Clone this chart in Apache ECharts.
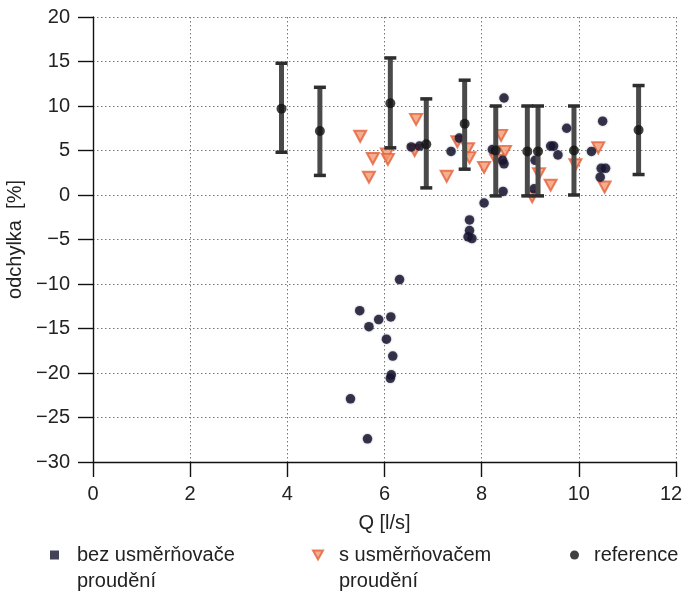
<!DOCTYPE html>
<html>
<head>
<meta charset="utf-8">
<script src="https://cdn.jsdelivr.net/npm/echarts@6/dist/echarts.min.js"></script>
<style>
  html, body { margin: 0; padding: 0; background: #fff; }
  #chartdiv { width: 683px; height: 592px; }
</style>
</head>
<body>
<div id="chartdiv"></div>
<script>
// measured without flow conditioner
var bezQ   = [6.55, 6.72, 7.37, 7.54, 8.22, 8.46, 8.43, 8.46, 8.44, 8.05, 7.75, 7.75, 7.72, 7.80,
              9.10, 9.08, 9.42, 9.48, 9.57, 9.75, 10.26, 10.49, 10.46, 10.55, 10.44,
              6.31, 5.49, 5.88, 6.13, 5.68, 6.04, 6.17, 6.14, 6.12, 5.30, 5.65];
var bezDev = [5.4, 5.5, 4.9, 6.4, 5.1, 10.9, 3.9, 3.5, 0.4, -0.9, -2.8, -4.0, -4.7, -4.9,
              3.9, 0.7, 5.5, 5.5, 4.5, 7.5, 4.9, 8.3, 3.0, 3.0, 2.0,
              -9.5, -13.0, -14.0, -13.7, -14.8, -16.2, -18.1, -20.2, -20.6, -22.9, -27.4];

// measured with flow conditioner
var sQ   = [5.50, 5.76, 5.68, 6.05, 6.07, 6.65, 6.62, 7.28, 7.50, 7.72, 7.75, 8.05, 8.40, 8.48,
            8.30, 9.18, 9.04, 9.42, 9.93, 10.40, 10.53];
var sDev = [6.6, 4.1, 2.0, 4.6, 4.0, 8.5, 5.0, 2.1, 6.0, 5.2, 4.2, 3.1, 6.7, 4.9,
            3.9, 2.4, -0.2, 1.1, 3.4, 5.3, 0.9];

// reference meter with error bars
var refQ    = [3.88, 4.67, 6.12, 6.86, 7.65, 8.29, 8.94, 9.16, 9.90, 11.23];
var refDev  = [9.7, 7.2, 10.3, 5.7, 8.0, 5.0, 4.9, 4.9, 5.0, 7.3];
var refLow  = [4.8, 2.2, 5.3, 0.8, 2.9, -0.1, -0.1, -0.1, 0.0, 2.3];
var refHigh = [14.8, 12.1, 15.4, 10.8, 12.9, 10.0, 10.0, 10.0, 10.0, 12.3];

var names = ['bez usměrňovače\nproudění', 's usměrňovačem\nproudění', 'reference'];

var FONT = 'Liberation Sans';
var TXT = '#222';

function zip(a, b) {
    return a.map(function(v, i) { return [v, b[i]]; });
}

var errorBars = refQ.map(function(q, i) { return [q, refLow[i], refHigh[i]]; });

var gridLine = { show: true, lineStyle: { color: '#777', width: 1, type: [1.5, 2.5] } };
var axisLine = { show: true, onZero: false, lineStyle: { color: '#111', width: 1.4 } };
var axisTick = { show: true, length: 15, lineStyle: { color: '#111', width: 1.4 } };

// two-line legend entries: blank first line keeps the marker level with the first text line
var legendText = { fontFamily: FONT, fontSize: 20, color: TXT, lineHeight: 26 };

var options = {
    animation: false,
    textStyle: { fontFamily: FONT },
    grid: { left: 93, right: 7, top: 17, bottom: 130, containLabel: false, outerBoundsMode: 'none' },
    legend: [
        {
            data: [{ name: names[0], icon: 'rect' }],
            left: 45, top: 511, selectedMode: false,
            itemWidth: 9, itemHeight: 9,
            formatter: function(n) { return '\n' + n; },
            textStyle: Object.assign({ padding: [0, 0, 0, 13] }, legendText)
        },
        {
            data: [names[1]],
            left: 307, top: 511, selectedMode: false,
            itemWidth: 10, itemHeight: 10,
            formatter: function(n) { return '\n' + n; },
            textStyle: Object.assign({ padding: [0, 0, 0, 11] }, legendText)
        },
        {
            data: [names[2]],
            left: 565, top: 537, selectedMode: false,
            itemWidth: 9, itemHeight: 9,
            textStyle: Object.assign({ padding: [0, 0, 0, 10] }, legendText)
        }
    ],
    xAxis: {
        type: 'value',
        min: 0, max: 12, interval: 2,
        name: 'Q [l/s]',
        nameLocation: 'middle',
        nameGap: 51,
        nameTextStyle: { fontFamily: FONT, fontSize: 20, color: TXT },
        axisLine: axisLine,
        axisTick: axisTick,
        axisLabel: {
            margin: 22, fontFamily: FONT, fontSize: 20, color: TXT,
            // last label sits a little left so it stays on the page
            formatter: function(v) { return v === 12 ? '{last|12}' : '' + v; },
            rich: { last: { fontFamily: FONT, fontSize: 20, color: TXT, padding: [0, 10, 0, 0] } }
        },
        splitLine: gridLine
    },
    yAxis: {
        type: 'value',
        min: -30, max: 20, interval: 5,
        name: 'odchylka  [%]',
        nameLocation: 'middle',
        nameGap: 64,
        nameTextStyle: { fontFamily: FONT, fontSize: 20, color: TXT },
        axisLine: axisLine,
        axisTick: axisTick,
        axisLabel: {
            margin: 23, fontFamily: FONT, fontSize: 20, color: TXT,
            formatter: function(v) { return v < 0 ? '\u2212' + (-v) : '' + v; }
        },
        splitLine: gridLine
    },
    series: [
        {
            name: names[1],
            type: 'scatter',
            data: zip(sQ, sDev),
            symbol: 'path://M0,0 L10,0 L5,9 Z',
            symbolSize: [12, 11],
            itemStyle: { color: '#f39a72', borderColor: '#e5603a', borderWidth: 2 },
            z: 2
        },
        {
            name: names[0],
            type: 'scatter',
            data: zip(bezQ, bezDev),
            symbol: 'circle',
            symbolSize: 9.5,
            itemStyle: { color: '#15132c', shadowBlur: 2, shadowColor: 'rgba(30,30,70,0.5)' },
            z: 3
        },
        {
            // error bars of the reference points
            type: 'custom',
            data: errorBars,
            encode: { x: 0, y: [1, 2] },
            renderItem: function(params, api) {
                var lo = api.coord([api.value(0), api.value(1)]);
                var hi = api.coord([api.value(0), api.value(2)]);
                var half = 6;
                return {
                    type: 'group',
                    children: [
                        { type: 'line', shape: { x1: lo[0], y1: lo[1], x2: hi[0], y2: hi[1] },
                          style: { stroke: '#4a4a4a', lineWidth: 5 } },
                        { type: 'line', shape: { x1: lo[0] - half, y1: lo[1], x2: lo[0] + half, y2: lo[1] },
                          style: { stroke: '#2e2e2e', lineWidth: 3.5 } },
                        { type: 'line', shape: { x1: hi[0] - half, y1: hi[1], x2: hi[0] + half, y2: hi[1] },
                          style: { stroke: '#2e2e2e', lineWidth: 3.5 } }
                    ]
                };
            },
            z: 4
        },
        {
            name: names[2],
            type: 'scatter',
            data: zip(refQ, refDev),
            symbol: 'circle',
            symbolSize: 10,
            itemStyle: { color: '#111' },
            z: 5
        }
    ]
};

var plot = echarts.init(document.getElementById('chartdiv'));
plot.setOption(options);
</script>
</body>
</html>
